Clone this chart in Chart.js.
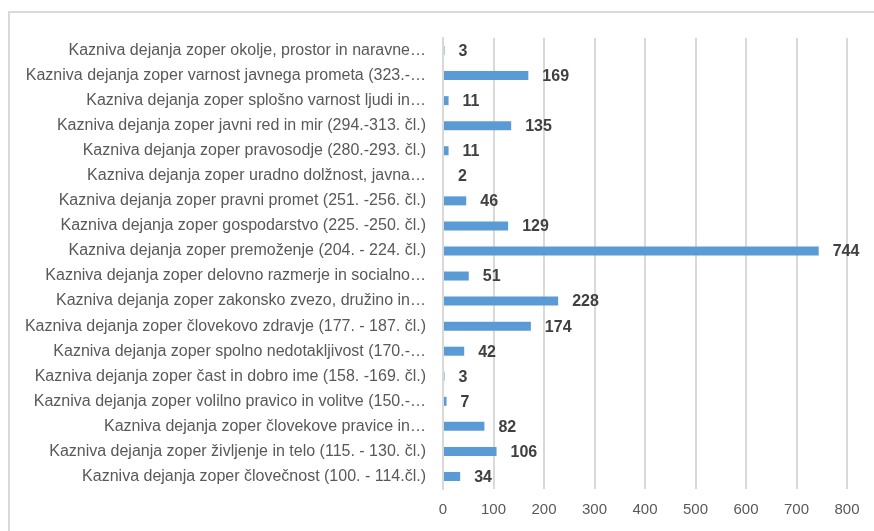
<!DOCTYPE html>
<html>
<head>
<meta charset="utf-8">
<script src="https://cdn.jsdelivr.net/npm/chart.js@4"></script>
<style>
  body { margin: 0; background: #fff; }
  #wrap { position: relative; width: 874px; height: 531px; overflow: hidden; }
  #frame { position: absolute; left: 8px; top: 11px; width: 900px; height: 600px; border: 2px solid #d9d9d9; box-sizing: border-box; }
  canvas { position: absolute; left: 0; top: 0; }
</style>
</head>
<body>
<div id="wrap">
  <div id="frame"></div>
  <canvas id="grafico" width="874" height="531"></canvas>
</div>
<script>
const kategorije = [
    "Kazniva dejanja zoper okolje, prostor in naravne…",
    "Kazniva dejanja zoper varnost javnega prometa (323.-…",
    "Kazniva dejanja zoper splošno varnost ljudi in…",
    "Kazniva dejanja zoper javni red in mir (294.-313. čl.)",
    "Kazniva dejanja zoper pravosodje (280.-293. čl.)",
    "Kazniva dejanja zoper uradno dolžnost, javna…",
    "Kazniva dejanja zoper pravni promet (251. -256. čl.)",
    "Kazniva dejanja zoper gospodarstvo (225. -250. čl.)",
    "Kazniva dejanja zoper premoženje (204. - 224. čl.)",
    "Kazniva dejanja zoper delovno razmerje in socialno…",
    "Kazniva dejanja zoper zakonsko zvezo, družino in…",
    "Kazniva dejanja zoper človekovo zdravje (177. - 187. čl.)",
    "Kazniva dejanja zoper spolno nedotakljivost (170.-…",
    "Kazniva dejanja zoper čast in dobro ime (158. -169. čl.)",
    "Kazniva dejanja zoper volilno pravico in volitve (150.-…",
    "Kazniva dejanja zoper človekove pravice in…",
    "Kazniva dejanja zoper življenje in telo (115. - 130. čl.)",
    "Kazniva dejanja zoper človečnost (100. - 114.čl.)"
];
const vrednosti = [3, 169, 11, 135, 11, 2, 46, 129, 744, 51, 228, 174, 42, 3, 7, 82, 106, 34];
const osX = [0, 100, 200, 300, 400, 500, 600, 700, 800];

// napisi vrednosti desno od stolpcev
const oznake = {
    id: 'oznake',
    afterDatasetsDraw(chart) {
        const ctx = chart.ctx;
        const meta = chart.getDatasetMeta(0);
        ctx.save();
        ctx.font = 'bold 16px "Liberation Sans", Arial, sans-serif';
        ctx.fillStyle = '#404040';
        ctx.textAlign = 'left';
        ctx.textBaseline = 'middle';
        meta.data.forEach((bar, i) => {
            ctx.fillText(String(vrednosti[i]), bar.x + 14, bar.y + 1);
        });
        ctx.restore();
    }
};

const ctx = document.getElementById("grafico").getContext("2d");
new Chart(ctx, {
    type: 'bar',
    data: {
        labels: kategorije,
        datasets: [{
            data: vrednosti,
            backgroundColor: '#5b9bd5',
            borderWidth: 0,
            barPercentage: 0.72,
            categoryPercentage: 0.5
        }]
    },
    options: {
        indexAxis: 'y',
        responsive: false,
        animation: false,
        layout: { padding: { top: 38, right: 27, bottom: 0, left: 0 } },
        plugins: { legend: { display: false }, tooltip: { enabled: false } },
        scales: {
            x: {
                min: 0,
                max: 800,
                afterBuildTicks(scale) { scale.ticks = osX.map(v => ({ value: v })); },
                grid: { color: '#d9d9d9', lineWidth: 2, drawTicks: false },
                border: { display: false },
                ticks: {
                    color: '#595959',
                    padding: 12,
                    font: { family: '"Liberation Sans", Arial, sans-serif', size: 15 }
                }
            },
            y: {
                afterFit(scale) { scale.width = 443; },
                grid: { display: false, drawTicks: false },
                border: { display: true, color: '#d9d9d9', width: 2 },
                ticks: {
                    color: '#595959',
                    padding: 17,
                    autoSkip: false,
                    font: { family: '"Liberation Sans", Arial, sans-serif', size: 16 }
                }
            }
        }
    },
    plugins: [oznake]
});
</script>
</body>
</html>
